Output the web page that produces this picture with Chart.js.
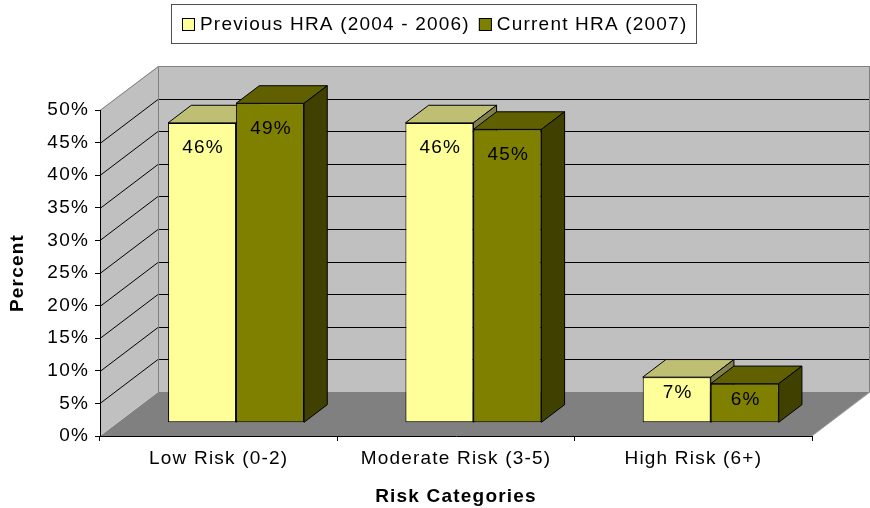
<!DOCTYPE html>
<html>
<head>
<meta charset="utf-8">
<script src="https://cdn.jsdelivr.net/npm/chart.js@4.4.1/dist/chart.umd.min.js"></script>
<style>
  html, body { margin: 0; padding: 0; background: #ffffff; }
  #wrap { width: 870px; height: 508px; }
</style>
</head>
<body>
<div id="wrap"><canvas id="chart" width="870" height="508"></canvas></div>
<script>
// Risk category shares per HRA round (percent)
const categories = ['Low Risk (0-2)', 'Moderate Risk (3-5)', 'High Risk (6+)'];
const seriesNames = ['Previous HRA (2004 - 2006)', 'Current HRA (2007)'];
const previousHRA = [46, 46, 7];
const currentHRA = [49, 45, 6];
const percentTicks = [0, 5, 10, 15, 20, 25, 30, 35, 40, 45, 50];

// Face shading for each series: front, top, right side
const faceColors = [
  { front: '#FFFF99', top: '#BFBF73', side: '#80804C' },
  { front: '#808000', top: '#606000', side: '#404000' }
];

const FONT = '"Liberation Sans", Arial, Helvetica, sans-serif';
const SPACING = '1.2px';
const DEPTH_X = 58;     // projected depth of the plot box, horizontal
const DEPTH_Y = 44;     // projected depth of the plot box, vertical
const BAR_FRONT = 0.3;  // bars sit between these depth fractions
const BAR_BACK = 0.7;

function poly(ctx, pts, fill, stroke) {
  ctx.beginPath();
  ctx.moveTo(pts[0][0], pts[0][1]);
  for (let i = 1; i < pts.length; i++) ctx.lineTo(pts[i][0], pts[i][1]);
  ctx.closePath();
  if (fill) { ctx.fillStyle = fill; ctx.fill(); }
  if (stroke) { ctx.strokeStyle = stroke; ctx.lineWidth = 1; ctx.stroke(); }
}

function line(ctx, x1, y1, x2, y2, color) {
  ctx.beginPath();
  ctx.moveTo(x1, y1);
  ctx.lineTo(x2, y2);
  ctx.strokeStyle = color;
  ctx.lineWidth = 1;
  ctx.stroke();
}

const boxPlugin = {
  id: 'box3d',
  beforeLayout(chart) { chart.ctx.letterSpacing = SPACING; },
  beforeDraw(chart) {
    const ctx = chart.ctx;
    ctx.letterSpacing = SPACING;
    const xs = chart.scales.x, ys = chart.scales.y;
    const L = xs.left, R = xs.right;
    const B = ys.getPixelForValue(percentTicks[0]);
    const T = ys.getPixelForValue(percentTicks[percentTicks.length - 1]);
    ctx.save();
    // floor, side wall and back wall
    poly(ctx, [[L, B], [R, B], [R + DEPTH_X, B - DEPTH_Y], [L + DEPTH_X, B - DEPTH_Y]], '#808080', null);
    poly(ctx, [[L, B], [L, T], [L + DEPTH_X, T - DEPTH_Y], [L + DEPTH_X, B - DEPTH_Y]], '#C0C0C0', null);
    poly(ctx, [[L + DEPTH_X, B - DEPTH_Y], [L + DEPTH_X, T - DEPTH_Y], [R + DEPTH_X, T - DEPTH_Y], [R + DEPTH_X, B - DEPTH_Y]], '#C0C0C0', null);
    // gridlines across both walls
    percentTicks.slice(1, -1).forEach(v => {
      const py = Math.round(ys.getPixelForValue(v)) + 0.5;
      line(ctx, L, py, L + DEPTH_X, py - DEPTH_Y, '#000000');
      line(ctx, L + DEPTH_X, py - DEPTH_Y, R + DEPTH_X, py - DEPTH_Y, '#000000');
    });
    // wall edges
    const bx = Math.round(L + DEPTH_X) + 0.5;
    const ty = Math.round(T - DEPTH_Y) + 0.5;
    line(ctx, L, Math.round(T) + 0.5, bx, ty, '#808080');
    line(ctx, bx, ty, R + DEPTH_X, ty, '#808080');
    line(ctx, bx, ty, bx, B - DEPTH_Y, '#808080');
    line(ctx, R + DEPTH_X - 0.5, ty, R + DEPTH_X - 0.5, B - DEPTH_Y, '#808080');
    line(ctx, R, B, R + DEPTH_X, B - DEPTH_Y, '#A0A0A0');
    ctx.restore();
  },
  beforeDatasetsDraw(chart) {
    const ctx = chart.ctx;
    const ox = DEPTH_X * BAR_FRONT, oy = DEPTH_Y * BAR_FRONT;
    const dx = DEPTH_X * (BAR_BACK - BAR_FRONT), dy = DEPTH_Y * (BAR_BACK - BAR_FRONT);
    const metas = chart.data.datasets.map((_, i) => chart.getDatasetMeta(i));
    const labels = [];
    for (let c = 0; c < categories.length; c++) {
      metas.forEach((meta, d) => {
        const el = meta.data[c];
        const p = el.getProps(['x', 'y', 'base', 'width'], true);
        const l = p.x - p.width / 2 + ox, r = p.x + p.width / 2 + ox;
        const top = p.y - oy, bottom = p.base - oy;
        ctx.save();
        ctx.translate(ox, -oy);
        el.draw(ctx);
        ctx.restore();
        ctx.save();
        ctx.lineJoin = 'round';
        poly(ctx, [[l, top], [r, top], [r + dx, top - dy], [l + dx, top - dy]], faceColors[d].top, '#000000');
        poly(ctx, [[r, top], [r + dx, top - dy], [r + dx, bottom - dy], [r, bottom]], faceColors[d].side, '#000000');
        ctx.restore();
        const h = bottom - top;
        labels.push({ x: (l + r) / 2, y: top + Math.min(25, Math.max(16, h * 0.35)),
                      text: chart.data.datasets[d].data[c] + '%' });
      });
    }
    ctx.save();
    ctx.letterSpacing = SPACING;
    ctx.font = '19px ' + FONT;
    ctx.fillStyle = '#000000';
    ctx.textAlign = 'center';
    ctx.textBaseline = 'middle';
    labels.forEach(t => ctx.fillText(t.text, t.x + 1, t.y));
    ctx.restore();
    return false;
  },
  afterDraw(chart) {
    // legend box above the plot
    const ctx = chart.ctx;
    ctx.save();
    ctx.letterSpacing = SPACING;
    ctx.font = '19px ' + FONT;
    const sq = 13, gap = 5, itemGap = 9, pad = 10;
    const ds = chart.data.datasets;
    const widths = ds.map(s => ctx.measureText(s.label).width);
    const inner = widths.reduce((a, w) => a + sq + gap + w, 0) + itemGap * (ds.length - 1);
    const boxW = Math.round(inner + pad * 2);
    const x0 = Math.round(433 - boxW / 2);
    ctx.fillStyle = '#ffffff';
    ctx.fillRect(x0, 4, boxW, 39);
    ctx.strokeStyle = '#505050';
    ctx.lineWidth = 1;
    ctx.strokeRect(x0 + 0.5, 4.5, boxW, 39);
    let x = x0 + pad + 1;
    ds.forEach((s, i) => {
      ctx.fillStyle = s.backgroundColor;
      ctx.fillRect(x, 18, sq, sq);
      ctx.strokeStyle = '#000000';
      ctx.strokeRect(x + 0.5, 18.5, sq - 1, sq - 1);
      ctx.fillStyle = '#000000';
      ctx.textAlign = 'left';
      ctx.textBaseline = 'middle';
      ctx.fillText(s.label, x + sq + gap, 24.5);
      x += sq + gap + widths[i] + itemGap;
    });
    ctx.restore();
  }
};

new Chart(document.getElementById('chart'), {
  type: 'bar',
  data: {
    labels: categories,
    datasets: [
      { label: seriesNames[0], data: previousHRA, backgroundColor: faceColors[0].front,
        borderColor: '#000000', borderWidth: 1, borderSkipped: false },
      { label: seriesNames[1], data: currentHRA, backgroundColor: faceColors[1].front,
        borderColor: '#000000', borderWidth: 1, borderSkipped: false }
    ]
  },
  options: {
    responsive: false,
    animation: false,
    devicePixelRatio: 1,
    events: [],
    categoryPercentage: 0.573,
    barPercentage: 1.0,
    layout: { padding: { top: 110, right: 58, left: 0, bottom: 0 } },
    plugins: { legend: { display: false }, tooltip: { enabled: false } },
    scales: {
      x: {
        offset: true,
        grid: { display: true, offset: true, drawOnChartArea: false, tickLength: 5, color: '#000000', lineWidth: 1 },
        border: { display: true, color: '#000000', width: 1 },
        ticks: { color: '#000000', font: { family: FONT, size: 19 }, padding: 6, maxRotation: 0, autoSkip: false },
        title: { display: true, text: 'Risk Categories', color: '#000000',
                 font: { family: FONT, size: 19, weight: 'bold' }, padding: { top: 0, bottom: 0 } },
        afterFit(scale) { scale.height = 72; }
      },
      y: {
        min: percentTicks[0],
        max: percentTicks[percentTicks.length - 1],
        afterBuildTicks(scale) { scale.ticks = percentTicks.map(v => ({ value: v })); },
        grid: { drawOnChartArea: false, tickLength: 5, color: '#000000', lineWidth: 1 },
        border: { display: true, color: '#000000', width: 1 },
        ticks: { color: '#000000', font: { family: FONT, size: 19 }, padding: 6, callback: v => v + '%' },
        title: { display: true, text: 'Percent', color: '#000000',
                 font: { family: FONT, size: 19, weight: 'bold' }, padding: { top: 6, bottom: 0 } },
        afterFit(scale) { scale.width = 100; }
      }
    }
  },
  plugins: [boxPlugin]
});
</script>
</body>
</html>
